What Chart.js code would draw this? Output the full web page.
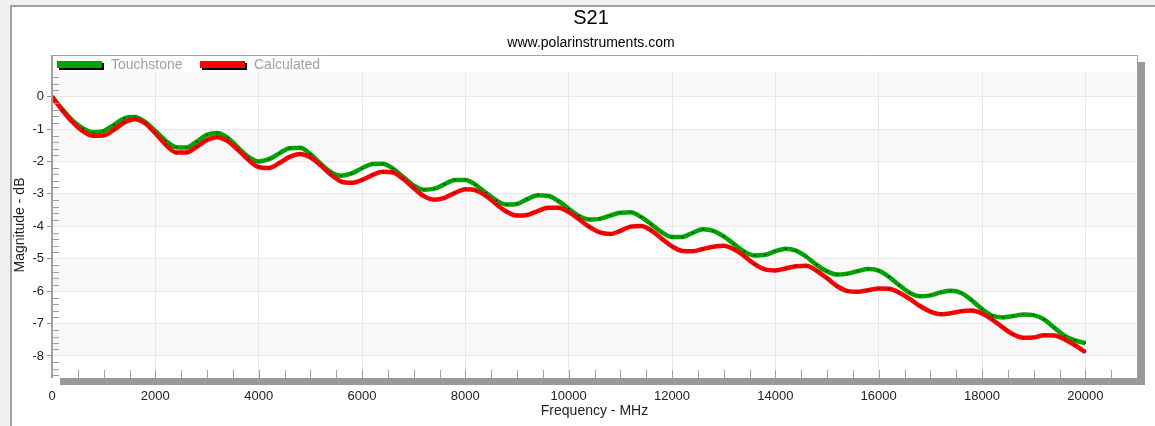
<!DOCTYPE html>
<html>
<head>
<meta charset="utf-8">
<title>S21</title>
<script src="https://cdn.jsdelivr.net/npm/chart.js@4.4.1/dist/chart.umd.min.js"></script>
<style>
  html, body { margin: 0; padding: 0; background: #f0f0f0; }
  #wrap { width: 1155px; height: 426px; }
</style>
</head>
<body>
<div id="wrap"><canvas id="s21" width="1155" height="426"></canvas></div>
<script>
// sweep points, MHz
const freqMHz = [
  0, 200, 400, 600, 800, 1000, 1200, 1400, 1600, 1800,
  2000, 2200, 2400, 2600, 2800, 3000, 3200, 3400, 3600, 3800,
  4000, 4200, 4400, 4600, 4800, 5000, 5200, 5400, 5600, 5800,
  6000, 6200, 6400, 6600, 6800, 7000, 7200, 7400, 7600, 7800,
  8000, 8200, 8400, 8600, 8800, 9000, 9200, 9400, 9600, 9800,
  10000, 10200, 10400, 10600, 10800, 11000, 11200, 11400, 11600, 11800,
  12000, 12200, 12400, 12600, 12800, 13000, 13200, 13400, 13600, 13800,
  14000, 14200, 14400, 14600, 14800, 15000, 15200, 15400, 15600, 15800,
  16000, 16200, 16400, 16600, 16800, 17000, 17200, 17400, 17600, 17800,
  18000, 18200, 18400, 18600, 18800, 19000, 19200, 19400, 19600, 19800,
  20000
];

// |S21| in dB from the touchstone file
const touchstone = [
  0, -0.39, -0.74, -0.98, -1.10, -1.06, -0.87, -0.67, -0.63, -0.78,
  -1.06, -1.36, -1.56, -1.57, -1.39, -1.18, -1.12, -1.27, -1.57, -1.86,
  -2.00, -1.93, -1.75, -1.59, -1.58, -1.77, -2.07, -2.33, -2.44, -2.37,
  -2.21, -2.08, -2.07, -2.22, -2.48, -2.74, -2.87, -2.84, -2.70, -2.57,
  -2.57, -2.72, -2.97, -3.20, -3.33, -3.31, -3.16, -3.04, -3.06, -3.22,
  -3.46, -3.68, -3.79, -3.77, -3.67, -3.58, -3.57, -3.71, -3.94, -4.18,
  -4.33, -4.33, -4.20, -4.09, -4.14, -4.31, -4.55, -4.78, -4.90, -4.88,
  -4.77, -4.69, -4.75, -4.94, -5.19, -5.39, -5.49, -5.46, -5.38, -5.32,
  -5.37, -5.56, -5.82, -6.05, -6.16, -6.13, -6.04, -5.99, -6.06, -6.28,
  -6.55, -6.76, -6.81, -6.77, -6.72, -6.74, -6.87, -7.13, -7.38, -7.52,
  -7.60
];

// |S21| in dB from the field solver
const calculated = [
  0, -0.42, -0.79, -1.07, -1.21, -1.20, -1.02, -0.80, -0.70, -0.82,
  -1.13, -1.48, -1.72, -1.72, -1.55, -1.34, -1.25, -1.37, -1.64, -1.95,
  -2.17, -2.20, -2.05, -1.86, -1.77, -1.87, -2.12, -2.41, -2.62, -2.66,
  -2.57, -2.42, -2.32, -2.34, -2.54, -2.82, -3.07, -3.18, -3.12, -2.97,
  -2.86, -2.89, -3.06, -3.32, -3.55, -3.67, -3.65, -3.53, -3.43, -3.43,
  -3.56, -3.78, -4.02, -4.19, -4.24, -4.14, -4.01, -3.99, -4.13, -4.38,
  -4.62, -4.76, -4.77, -4.70, -4.63, -4.60, -4.71, -4.92, -5.17, -5.33,
  -5.36, -5.30, -5.23, -5.22, -5.37, -5.60, -5.85, -6.00, -6.02, -5.97,
  -5.92, -5.93, -6.05, -6.24, -6.46, -6.63, -6.71, -6.68, -6.62, -6.60,
  -6.69, -6.88, -7.12, -7.33, -7.44, -7.43, -7.36, -7.37, -7.49, -7.67,
  -7.88
];

const xTicks = [0, 2000, 4000, 6000, 8000, 10000, 12000, 14000, 16000, 18000, 20000];
const yTicks = [0, -1, -2, -3, -4, -5, -6, -7, -8];
const seriesNames = ["Touchstone", "Calculated"];
const seriesColors = ["#00a400", "#ff0000"];

const FONT = "'Liberation Sans', Arial, sans-serif";
const LEGEND_H = 17;

function pairs(values) {
  return freqMHz.map((f, i) => ({ x: f, y: values[i] }));
}

// window frame, titles, banded plot background and drop shadow
const framePlugin = {
  id: "frame",
  beforeDraw(chart) {
    const ctx = chart.ctx;
    const a = chart.chartArea;
    const ys = chart.scales.y;
    const top = a.top - LEGEND_H;
    ctx.save();
    ctx.fillStyle = "#f0f0f0";
    ctx.fillRect(0, 0, chart.width, chart.height);
    ctx.fillStyle = "#ffffff";
    ctx.fillRect(10, 5, chart.width - 10, chart.height - 5);
    ctx.fillStyle = "#a0a0a0";
    ctx.fillRect(10, 5, chart.width - 10, 2);
    ctx.fillRect(10, 5, 2, chart.height - 5);

    ctx.fillStyle = "#000";
    ctx.textAlign = "center";
    ctx.textBaseline = "middle";
    ctx.font = "20px " + FONT;
    ctx.fillText("S21", 591, 18);
    ctx.font = "14px " + FONT;
    ctx.fillText("www.polarinstruments.com", 591, 43);

    // shadow under and right of the plot box
    ctx.fillStyle = "#999999";
    ctx.fillRect(a.right + 1, top + 7, 7, a.bottom + 7 - (top + 7));
    ctx.fillRect(a.left + 8, a.bottom, a.right - a.left, 7);

    // alternating bands between the major y ticks
    const edges = [ys.max].concat(yTicks, [ys.min]);
    for (let i = 0; i < edges.length - 1; i++) {
      if (i % 2) continue;
      const y0 = ys.getPixelForValue(edges[i]);
      const y1 = ys.getPixelForValue(edges[i + 1]);
      ctx.fillStyle = "#f8f8f8";
      ctx.fillRect(a.left, y0, a.right - a.left, y1 - y0);
    }
    ctx.restore();
  },
  afterDraw(chart) {
    const ctx = chart.ctx;
    const a = chart.chartArea;
    const xs = chart.scales.x;
    const ys = chart.scales.y;
    const top = a.top - LEGEND_H;
    ctx.save();

    // legend strip
    ctx.fillStyle = "#ffffff";
    ctx.fillRect(a.left, top, a.right - a.left, LEGEND_H);
    let lx = a.left + 5;
    seriesNames.forEach((name, i) => {
      ctx.fillStyle = "#000";
      ctx.fillRect(lx + 2, top + 8, 45, 7);
      ctx.fillStyle = seriesColors[i];
      ctx.fillRect(lx, top + 6, 45, 7);
      ctx.fillStyle = "#a0a0a0";
      ctx.font = "14px " + FONT;
      ctx.textAlign = "left";
      ctx.textBaseline = "middle";
      ctx.fillText(name, lx + 54, top + 10);
      lx += 143;
    });

    // minor ticks inside the box
    ctx.strokeStyle = "#a0a0a0";
    ctx.lineWidth = 1;
    ctx.beginPath();
    for (let f = 500; f < xs.max; f += 500) {
      const px = Math.round(xs.getPixelForValue(f)) + 0.5;
      ctx.moveTo(px, a.bottom);
      ctx.lineTo(px, a.bottom - 8);
    }
    for (let k = Math.ceil(ys.min * 5); k <= Math.floor(ys.max * 5); k++) {
      if (k % 5 === 0) continue;
      const py = Math.round(ys.getPixelForValue(k / 5)) + 0.5;
      ctx.moveTo(a.left, py);
      ctx.lineTo(a.left + 7, py);
    }
    ctx.stroke();

    // box outline
    ctx.beginPath();
    ctx.moveTo(a.left, top + 0.5);
    ctx.lineTo(a.right + 0.5, top + 0.5);
    ctx.lineTo(a.right + 0.5, a.bottom);
    ctx.stroke();
    ctx.fillStyle = "#a0a0a0";
    ctx.fillRect(a.left - 1, top, 2, a.bottom - top);
    ctx.restore();
  }
};

new Chart(document.getElementById("s21"), {
  type: "line",
  data: {
    datasets: [
      {
        label: seriesNames[0],
        data: pairs(touchstone),
        borderColor: seriesColors[0],
        order: 1
      },
      {
        label: seriesNames[1],
        data: pairs(calculated),
        borderColor: seriesColors[1],
        order: 0
      }
    ]
  },
  options: {
    responsive: false,
    animation: false,
    events: [],
    layout: { padding: { top: 72, right: 18, bottom: 0, left: 0 } },
    plugins: {
      legend: { display: false },
      title: { display: false },
      tooltip: { enabled: false }
    },
    elements: {
      line: { borderWidth: 4.5, cubicInterpolationMode: "monotone", fill: false },
      point: { radius: 0.8, backgroundColor: "#000", borderWidth: 0 }
    },
    scales: {
      x: {
        type: "linear",
        min: 0,
        max: 21000,
        afterBuildTicks: (s) => { s.ticks = xTicks.map((v) => ({ value: v })); },
        afterFit: (s) => { s.height = 48; },
        grid: { color: "#e8e8e8", drawTicks: false },
        border: { display: false },
        ticks: {
          padding: 11,
          color: "#222",
          font: { family: FONT, size: 13 },
          maxRotation: 0,
          callback: (v) => String(v)
        },
        title: {
          display: true,
          text: "Frequency - MHz",
          color: "#222",
          font: { family: FONT, size: 14 },
          padding: { top: 0, bottom: 6 }
        }
      },
      y: {
        type: "linear",
        min: -8.68,
        max: 0.76,
        afterBuildTicks: (s) => { s.ticks = yTicks.map((v) => ({ value: v })); },
        afterFit: (s) => { s.width = 52; },
        grid: { color: "#e8e8e8", tickLength: 5, tickColor: "#909090" },
        border: { display: false },
        ticks: {
          padding: 3,
          color: "#222",
          font: { family: FONT, size: 13 },
          callback: (v) => String(v)
        },
        title: {
          display: true,
          text: "Magnitude - dB",
          color: "#222",
          font: { family: FONT, size: 14 },
          padding: { top: 12, bottom: 0 }
        }
      }
    }
  },
  plugins: [framePlugin]
});
</script>
</body>
</html>
